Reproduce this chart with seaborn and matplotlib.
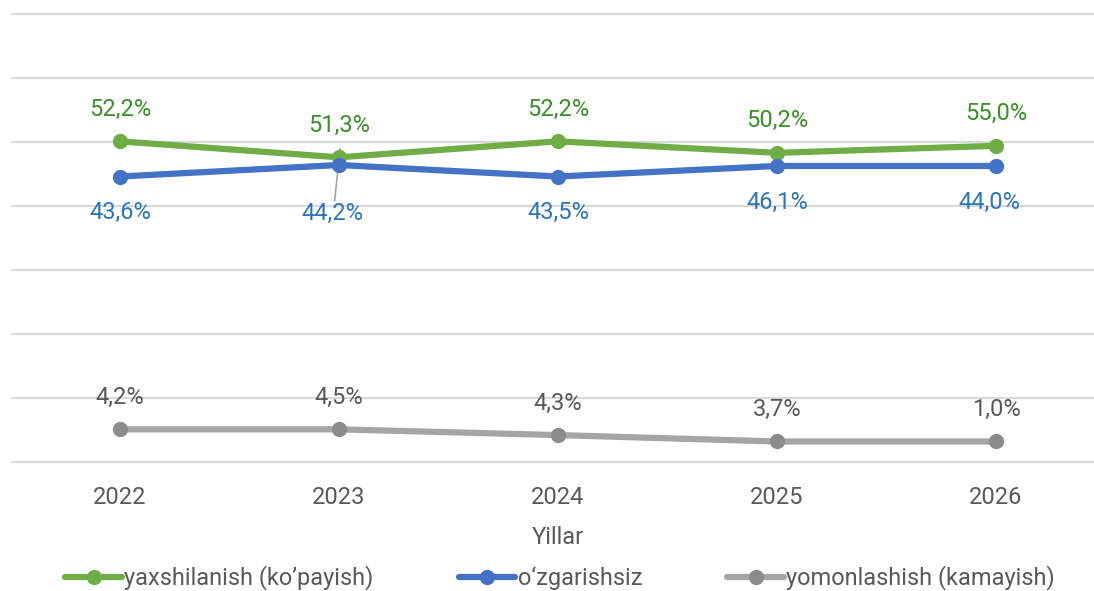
import matplotlib
matplotlib.use("Agg")
import matplotlib.pyplot as plt
import matplotlib.colors as mcolors
import seaborn as sns
import pandas as pd

years = ['2022', '2023', '2024', '2025', '2026']
series_names = ['yaxshilanish (ko’payish)', 'o‘zgarishsiz', 'yomonlashish (kamayish)']

# plotted positions
green_vals = [50.1, 47.6, 50.1, 48.3, 49.4]
blue_vals = [44.6, 46.4, 44.6, 46.25, 46.25]
gray_vals = [5.1, 5.1, 4.2, 3.2, 3.2]

# data label texts
green_labels = ['52,2%', '51,3%', '52,2%', '50,2%', '55,0%']
blue_labels = ['43,6%', '44,2%', '43,5%', '46,1%', '44,0%']
gray_labels = ['4,2%', '4,5%', '4,3%', '3,7%', '1,0%']

line_colors = ['#70ad47', '#4472c4', '#a5a5a5']
text_colors = ['#3b8e2c', '#2e75b6', '#595959']

rows = []
for name, vals in zip(series_names, [green_vals, blue_vals, gray_vals]):
    for i, v in enumerate(vals):
        rows.append({'Yil': i, 'Qiymat': v, 'Seriya': name})
df = pd.DataFrame(rows)

sns.set_style("white")
plt.rcParams['font.family'] = ['Roboto', 'DejaVu Sans']

fig = plt.figure(figsize=(10.94, 5.91), dpi=100)
ax = fig.add_axes([10.5 / 1094, 0.2129, 1095 / 1094, 0.7689])

sns.lineplot(data=df, x='Yil', y='Qiymat', hue='Seriya', hue_order=series_names,
             palette=line_colors, marker='o', markersize=11, markeredgewidth=0,
             linewidth=4.5, ax=ax)

# gray series has darker markers than its line
gray_rgb = mcolors.to_rgb(line_colors[2])
for ln in ax.lines:
    if mcolors.to_rgb(ln.get_color()) == gray_rgb:
        ln.set_markerfacecolor('#8c8c8c')

# leader line for the 2023 blue label
ax.plot([0.98, 1.005], [40.8, 49.0], color='#a5a5a5', lw=1.2, zorder=1)

fs = 17
for i in range(len(years)):
    ax.annotate(green_labels[i], (i, green_vals[i]), xytext=(0, 23), textcoords='offset points',
                ha='center', va='center', fontsize=fs, color=text_colors[0])
    dy = -35 if i == 1 else -26
    dx = -5 if i in (1, 4) else 0
    ax.annotate(blue_labels[i], (i, blue_vals[i]), xytext=(dx, dy), textcoords='offset points',
                ha='center', va='center', fontsize=fs, color=text_colors[1])
    ax.annotate(gray_labels[i], (i, gray_vals[i]), xytext=(0, 23), textcoords='offset points',
                ha='center', va='center', fontsize=fs, color=text_colors[2])

ax.set_xlim(-0.5, 4.5)
ax.set_ylim(-0.5, 70.5)
ax.set_yticks(range(0, 71, 10))
ax.set_yticklabels([])
ax.set_xticks(range(len(years)))
ax.set_xticklabels(years)
ax.tick_params(axis='x', length=0, pad=15, labelsize=fs, labelcolor='#595959')
ax.tick_params(axis='y', length=0)
ax.grid(axis='y', color='#d9d9d9', lw=1.5)
ax.grid(axis='x', visible=False)
for s in ax.spines.values():
    s.set_visible(False)
ax.set_ylabel('')
ax.set_xlabel('Yillar', fontsize=fs, color='#595959', labelpad=12)

handles, labels = ax.get_legend_handles_labels()
ax.get_legend().remove()
for h, lab in zip(handles, labels):
    if lab == series_names[2]:
        h.set_markerfacecolor('#8c8c8c')

fig.legend(handles, labels, loc='lower center', bbox_to_anchor=(0.512, -0.035), ncol=3,
           frameon=False, fontsize=fs, labelcolor='#595959', handlelength=2.4,
           handletextpad=0.1, columnspacing=3.6)

plt.savefig('out.png', dpi=100)
